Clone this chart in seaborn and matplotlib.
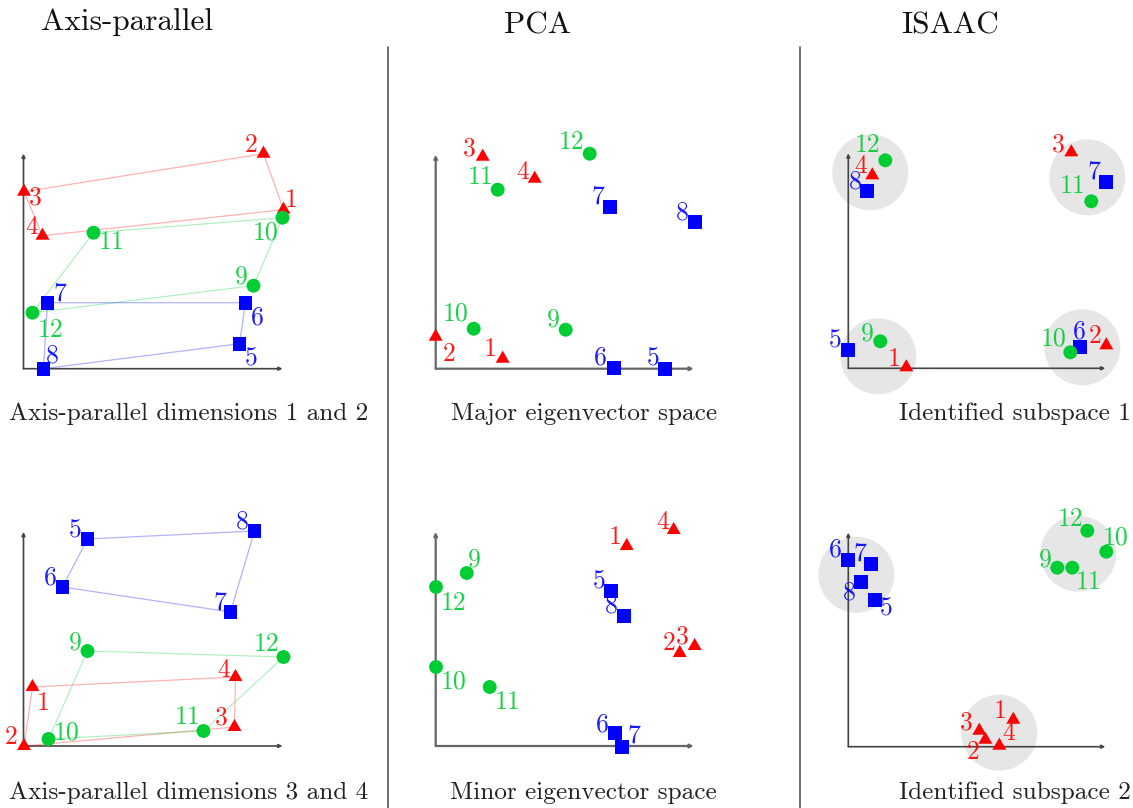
import numpy as np
import pandas as pd
import matplotlib
matplotlib.use("Agg")
import matplotlib.pyplot as plt
import seaborn as sns
from matplotlib.patches import Circle

sns.set_theme(style="white")
plt.rcParams["font.family"] = ["cmr10", "DejaVu Serif"]
plt.rcParams["axes.unicode_minus"] = False

# ---------------- data ----------------
point_ids = list(range(1, 13))
point_class = ["tri"] * 4 + ["sq"] * 4 + ["ci"] * 4

titles = ["Axis-parallel", "PCA", "ISAAC"]
captions_top = ["Axis-parallel dimensions 1 and 2", "Major eigenvector space", "Identified subspace 1"]
captions_bottom = ["Axis-parallel dimensions 3 and 4", "Minor eigenvector space", "Identified subspace 2"]

# panel 1: axis-parallel dims 1/2
ap12_x = [260, 240, 0.5, 19, 216, 222, 24, 20, 230, 259, 70, 9]
ap12_y = [159, 215, 177, 133, 25, 66, 66, 0, 83, 151, 136, 56]
# panel 4: axis-parallel dims 3/4
ap34_x = [9, 0.5, 211, 212, 64, 39, 207, 231, 64, 25, 180, 260]
ap34_y = [59, 0, 19, 69, 207, 159, 134, 215, 95, 7, 15, 89]
# panel 2: major eigenvector space
pca1_x = [67, 0, 47, 99, 229, 178, 174, 259, 130, 38, 62, 154]
pca1_y = [10, 32, 212, 190, 0, 1, 162, 147, 39, 40, 179, 215]
# panel 5: minor eigenvector space
pca2_x = [191, 244, 259, 238, 175, 179, 186, 188, 31, 0.3, 54, 0.3]
pca2_y = [200, 93, 100, 216, 155, 13, -1, 130, 173, 79, 59, 159]
# panel 3: identified subspace 1
isa1_x = [58, 258, 223, 24, -0.6, 232, 258, 19, 32, 222, 243, 37]
isa1_y = [1, 23, 216, 193, 18, 21, 186, 177, 27, 16, 167, 208]
# panel 6: identified subspace 2
isa2_x = [165, 151, 131, 137, 27, -0.6, 23, 13, 209, 258, 224, 239]
isa2_y = [27, 1, 16, 7, 147, 187, 183, 165, 179, 195, 179, 216]

# cluster discs (ISAAC)
isa1_disc_x = [22, 239, 30, 234]
isa1_disc_y = [196, 191, 12, 21]
isa2_disc_x = [8, 230, 151]
isa2_disc_y = [172, 193, 14]
disc_radius = 38

# polygons linking points in axis-parallel views (by id)
ap12_polys = {"tri": [3, 2, 1, 4], "ci": [11, 10, 9, 12], "sq": [7, 6, 5, 8]}
ap34_polys = {"tri": [1, 4, 3, 2], "ci": [9, 12, 11, 10], "sq": [5, 8, 7, 6]}

# label positions (layout)
ap12_lx = [268, 228, 11.5, 8, 228, 234, 36.5, 29, 218, 242, 88, 27]
ap12_ly = [169, 224, 171, 142, 10, 51, 75, 13, 92, 136, 127, 39]
ap34_lx = [20, -12, 198, 200, 51.5, 27, 196.5, 219, 51.5, 43, 164, 243]
ap34_ly = [43, 9, 28, 76, 215, 168, 143, 224, 103, 13, 29, 102]
pca1_lx = [54, 13, 34, 87, 217, 165, 162, 247, 118, 20, 45, 136]
pca1_ly = [20, 15, 220, 197, 10, 11, 172, 156, 49, 55, 192, 227]
pca2_lx = [179, 233, 247, 227, 163, 167, 198, 176, 39, 18, 72, 18]
pca2_ly = [209, 103, 109, 224, 164, 21, 10, 140, 186, 64, 44, 143]
isa1_lx = [46, 247, 210, 12, -13, 231, 246, 7, 19, 205, 224, 19]
isa1_ly = [9, 32, 224, 202, 28, 37, 197, 187, 35, 30, 182, 223]
isa2_lx = [152, 125, 118, 160, 38, -13, 12, 1, 197, 267, 240, 222]
isa2_ly = [36, -5, 24, 14, 138, 197, 193, 154, 187, 209, 165, 228]

# ---------------- styles ----------------
colors = {"tri": "#ff0000", "sq": "#0000ff", "ci": "#00cc33"}
markers = {"tri": (3, 0, 0), "sq": "s", "ci": "o"}
sizes = {"tri": 135, "sq": 100, "ci": 100}

W, H = 1133, 808
fig = plt.figure(figsize=(W / 100, H / 100), dpi=100)

overlay = fig.add_axes([0, 0, 1, 1])
overlay.set_xlim(0, W)
overlay.set_ylim(H, 0)
overlay.axis("off")

X0, X1, Y0, Y1 = -45, 300, -30, 245


def make_panel(ox, oy):
    ax = fig.add_axes([(ox + X0) / W, (H - (oy - Y0)) / H, (X1 - X0) / W, (Y1 - Y0) / H])
    ax.set_xlim(X0, X1)
    ax.set_ylim(Y0, Y1)
    ax.axis("off")
    return ax


def draw_axes_arrows(ax, xlen, ylen, color, lw):
    for end in [(xlen, 0), (0, ylen)]:
        ax.annotate("", xy=end, xytext=(0, 0), annotation_clip=False,
                    arrowprops=dict(arrowstyle="-|>", color=color, lw=lw,
                                    mutation_scale=5, shrinkA=0, shrinkB=0),
                    zorder=1)


def draw_points(ax, xs, ys, lx, ly):
    df = pd.DataFrame({"x": xs, "y": ys, "cls": point_class, "id": point_ids})
    sns.scatterplot(data=df, x="x", y="y", hue="cls", style="cls", size="cls",
                    palette=colors, markers=markers, sizes=sizes, linewidth=0,
                    legend=False, ax=ax, clip_on=False, zorder=3)
    for i, c, tx, ty in zip(point_ids, point_class, lx, ly):
        ax.text(tx, ty, str(i), color=colors[c], fontsize=18.5, ha="center", va="center",
                alpha=0.9, zorder=4)
    ax.set_xlim(X0, X1)
    ax.set_ylim(Y0, Y1)
    ax.axis("off")


def draw_polys(ax, xs, ys, polys):
    for c, order in polys.items():
        idx = [point_ids.index(k) for k in order + order[:1]]
        ax.plot([xs[k] for k in idx], [ys[k] for k in idx], color=colors[c],
                alpha=0.3, lw=0.9, zorder=2, clip_on=False)


def draw_discs(ax, dx, dy):
    for cx, cy in zip(dx, dy):
        ax.add_patch(Circle((cx, cy), disc_radius, facecolor="#e6e6e6", edgecolor="none",
                            zorder=0, clip_on=False))


# Panel 1
ax = make_panel(23.5, 368.7)
draw_axes_arrows(ax, 259, 215, "#444444", 1.2)
draw_polys(ax, ap12_x, ap12_y, ap12_polys)
draw_points(ax, ap12_x, ap12_y, ap12_lx, ap12_ly)

# Panel 4
ax = make_panel(23.5, 746)
draw_axes_arrows(ax, 259, 214, "#444444", 1.2)
draw_polys(ax, ap34_x, ap34_y, ap34_polys)
draw_points(ax, ap34_x, ap34_y, ap34_lx, ap34_ly)

# Panel 2
ax = make_panel(435.7, 368.7)
draw_axes_arrows(ax, 258, 214, "#666666", 1.6)
draw_points(ax, pca1_x, pca1_y, pca1_lx, pca1_ly)

# Panel 5
ax = make_panel(435.7, 746)
draw_axes_arrows(ax, 258, 214, "#666666", 1.6)
draw_points(ax, pca2_x, pca2_y, pca2_lx, pca2_ly)

# Panel 3
ax = make_panel(848.3, 368.3)
draw_discs(ax, isa1_disc_x, isa1_disc_y)
draw_axes_arrows(ax, 257, 215, "#444444", 1.2)
draw_points(ax, isa1_x, isa1_y, isa1_lx, isa1_ly)

# Panel 6
ax = make_panel(848.3, 746.7)
draw_discs(ax, isa2_disc_x, isa2_disc_y)
draw_axes_arrows(ax, 257, 214, "#444444", 1.2)
draw_points(ax, isa2_x, isa2_y, isa2_lx, isa2_ly)

# titles, captions, dividers
for t, cx, cy in zip(titles, [127, 538, 950], [22, 26, 26]):
    overlay.text(cx, cy, t, fontsize=22.5, ha="center", va="center", color="#111111")
for t, cx in zip(captions_top, [188.5, 584, 1015]):
    overlay.text(cx, 414, t, fontsize=18.2, ha="center", va="center", color="#222222")
for t, cx in zip(captions_bottom, [188.5, 583, 1015]):
    overlay.text(cx, 793, t, fontsize=18.2, ha="center", va="center", color="#222222")
for xv in [388, 800]:
    overlay.plot([xv, xv], [47, H], color="#555555", lw=1.2)

fig.savefig("out.png", dpi=100)
